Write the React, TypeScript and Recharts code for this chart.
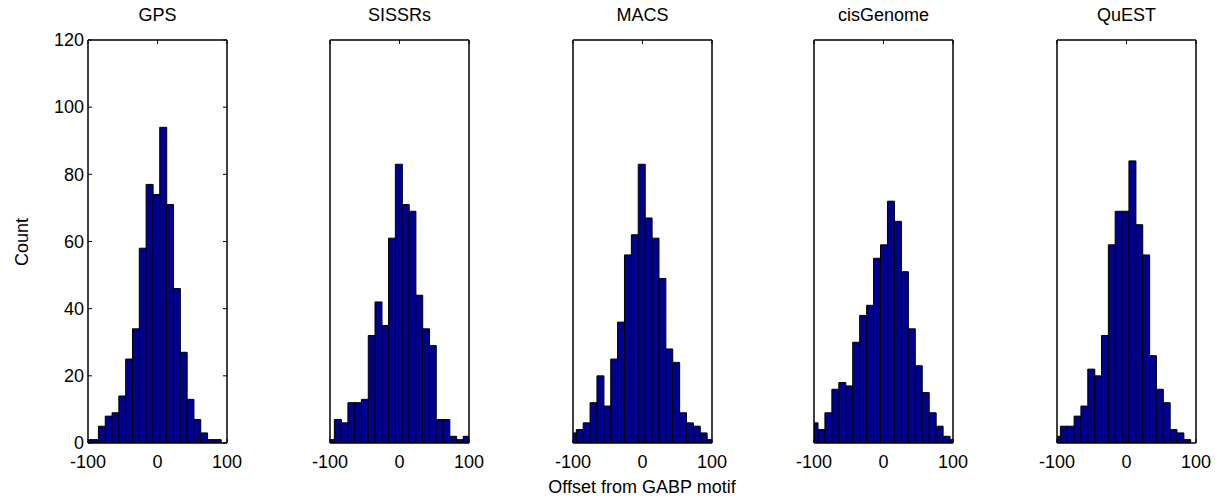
import React from 'react';
import { BarChart, Bar, XAxis, YAxis } from 'recharts';

// histogram bin centres (offset from motif) and counts
const gpsCenters = [-99.7, -89.9, -80.1, -70.3, -60.5, -50.7, -40.9, -31.1, -21.3, -11.5, -1.7, 8.1, 17.9, 27.7, 37.5, 47.3, 57.1, 66.9, 76.7, 86.5];
const gpsCounts = [1, 1, 5, 8, 9, 14, 25, 34, 58, 77, 74, 94, 71, 46, 27, 13, 7, 3, 1, 1];

const sissrsCenters = [-98.7, -88.9, -79.2, -69.4, -59.7, -49.9, -40.1, -30.4, -20.6, -10.9, -1.1, 8.7, 18.4, 28.2, 37.9, 47.7, 57.5, 67.2, 77.0, 86.7, 96.5];
const sissrsCounts = [1, 7, 6, 12, 12, 13, 32, 42, 35, 61, 83, 71, 69, 44, 34, 29, 7, 7, 2, 1, 2];

const macsCenters = [-100.2, -90.3, -80.4, -70.5, -60.6, -50.7, -40.8, -30.9, -21.0, -11.1, -1.2, 8.7, 18.6, 28.5, 38.4, 48.3, 58.2, 68.1, 78.0, 87.9, 97.8];
const macsCounts = [3, 4, 6, 12, 20, 11, 25, 36, 56, 62, 83, 67, 61, 49, 28, 24, 9, 6, 5, 3, 1];

const cisCenters = [-99.3, -89.3, -79.3, -69.3, -59.3, -49.3, -39.3, -29.3, -19.3, -9.3, 0.7, 10.7, 20.7, 30.7, 40.7, 50.7, 60.7, 70.7, 80.7, 90.7, 100.7];
const cisCounts = [6, 4, 9, 16, 18, 17, 30, 38, 41, 55, 59, 72, 66, 51, 34, 23, 15, 9, 5, 2, 1];

const questCenters = [-100.1, -90.2, -80.4, -70.5, -60.7, -50.8, -40.9, -31.1, -21.2, -11.4, -1.5, 8.4, 18.2, 28.1, 37.9, 47.8, 57.7, 67.5, 77.4, 87.2];
const questCounts = [2, 5, 5, 8, 11, 22, 20, 32, 59, 69, 69, 84, 65, 56, 26, 16, 12, 4, 3, 1];

const titles = ['GPS', 'SISSRs', 'MACS', 'cisGenome', 'QuEST'];
const xTicks = [-100, 0, 100];
const yTicks = [0, 20, 40, 60, 80, 100, 120];

const W = 1219;
const H = 500;
const PLOT_W = 139;
const PLOT_TOP = 40;
const PLOT_BOTTOM = 443;
const plotLefts = [88, 330, 573, 814, 1057];
const FONT = '"Liberation Sans", Arial, sans-serif';
const FS = 18;
const BAR_FILL = '#00008f';
const AXIS = { stroke: '#000', strokeWidth: 1.5 };

const BottomTick = (props: any) => {
  const { x, y, payload } = props;
  return (
    <g>
      <line x1={x} y1={y} x2={x} y2={y - 4} stroke="#000" />
      <text x={x} y={y + 25} textAnchor="middle" fontSize={FS} fontFamily={FONT} fill="#000">
        {payload.value}
      </text>
    </g>
  );
};

const TopTick = (props: any) => {
  const { x, y } = props;
  return <line x1={x} y1={y} x2={x} y2={y + 4} stroke="#000" />;
};

const LeftTick = (props: any) => {
  const { x, y, payload } = props;
  return (
    <g>
      <line x1={x} y1={y} x2={x + 4} y2={y} stroke="#000" />
      <text x={x - 4} y={y} dy="0.35em" textAnchor="end" fontSize={FS} fontFamily={FONT} fill="#000">
        {payload.value}
      </text>
    </g>
  );
};

const RightTick = (props: any) => {
  const { x, y } = props;
  return <line x1={x} y1={y} x2={x - 4} y2={y} stroke="#000" />;
};

type PanelProps = { centers: number[]; counts: number[]; left: number; showY: boolean };

const Panel = ({ centers, counts, left, showY }: PanelProps) => {
  const data = centers.map((x, i) => ({ x, count: counts[i] }));
  // every axis is 1px thick, so the margins leave that pixel out
  return (
    <div style={{ position: 'absolute', left: 0, top: 0 }}>
      <BarChart
        width={W}
        height={H}
        data={data}
        margin={{ top: PLOT_TOP - 1, bottom: H - PLOT_BOTTOM - 1, left: left - 1, right: W - left - PLOT_W - 1 }}
        barCategoryGap={0}
        barGap={0}
      >
        <XAxis
          xAxisId="b"
          type="number"
          dataKey="x"
          domain={[-100, 100]}
          allowDataOverflow
          ticks={xTicks}
          interval={0}
          height={1}
          tickSize={0}
          tickMargin={0}
          tickLine={false}
          axisLine={AXIS}
          tick={<BottomTick />}
        />
        <XAxis
          xAxisId="t"
          orientation="top"
          type="number"
          dataKey="x"
          domain={[-100, 100]}
          allowDataOverflow
          ticks={xTicks}
          interval={0}
          height={1}
          tickSize={0}
          tickMargin={0}
          tickLine={false}
          axisLine={AXIS}
          tick={<TopTick />}
        />
        <YAxis
          yAxisId="l"
          type="number"
          domain={[0, 120]}
          allowDataOverflow
          ticks={yTicks}
          interval={0}
          width={1}
          tickSize={0}
          tickMargin={0}
          tickLine={false}
          axisLine={AXIS}
          tick={showY ? <LeftTick /> : false}
        />
        <YAxis
          yAxisId="r"
          orientation="right"
          type="number"
          domain={[0, 120]}
          allowDataOverflow
          ticks={yTicks}
          interval={0}
          width={1}
          tickSize={0}
          tickMargin={0}
          tickLine={false}
          axisLine={AXIS}
          tick={showY ? <RightTick /> : false}
        />
        <Bar
          xAxisId="b"
          yAxisId="l"
          dataKey="count"
          fill={BAR_FILL}
          stroke="#000"
          strokeWidth={1}
          isAnimationActive={false}
        />
      </BarChart>
    </div>
  );
};

export default function App() {
  const series = [
    { centers: gpsCenters, counts: gpsCounts },
    { centers: sissrsCenters, counts: sissrsCounts },
    { centers: macsCenters, counts: macsCounts },
    { centers: cisCenters, counts: cisCounts },
    { centers: questCenters, counts: questCounts },
  ];
  return (
    <div style={{ position: 'absolute', left: 0, top: 0, width: W, height: H, background: '#fff' }}>
      {series.map((s, i) => (
        <Panel key={titles[i]} centers={s.centers} counts={s.counts} left={plotLefts[i]} showY={i === 0} />
      ))}
      <svg width={W} height={H} style={{ position: 'absolute', left: 0, top: 0, pointerEvents: 'none' }}>
        {titles.map((t, i) => (
          <text key={t} x={plotLefts[i] + PLOT_W / 2} y={21} textAnchor="middle" fontSize={FS} fontFamily={FONT} fill="#000">
            {t}
          </text>
        ))}
        <text x={642} y={493} textAnchor="middle" fontSize={FS} fontFamily={FONT} fill="#000">
          Offset from GABP motif
        </text>
        <text x={22} y={242} transform="rotate(-90 22 242)" dy="0.35em" textAnchor="middle" fontSize={FS} fontFamily={FONT} fill="#000">
          Count
        </text>
      </svg>
    </div>
  );
}
